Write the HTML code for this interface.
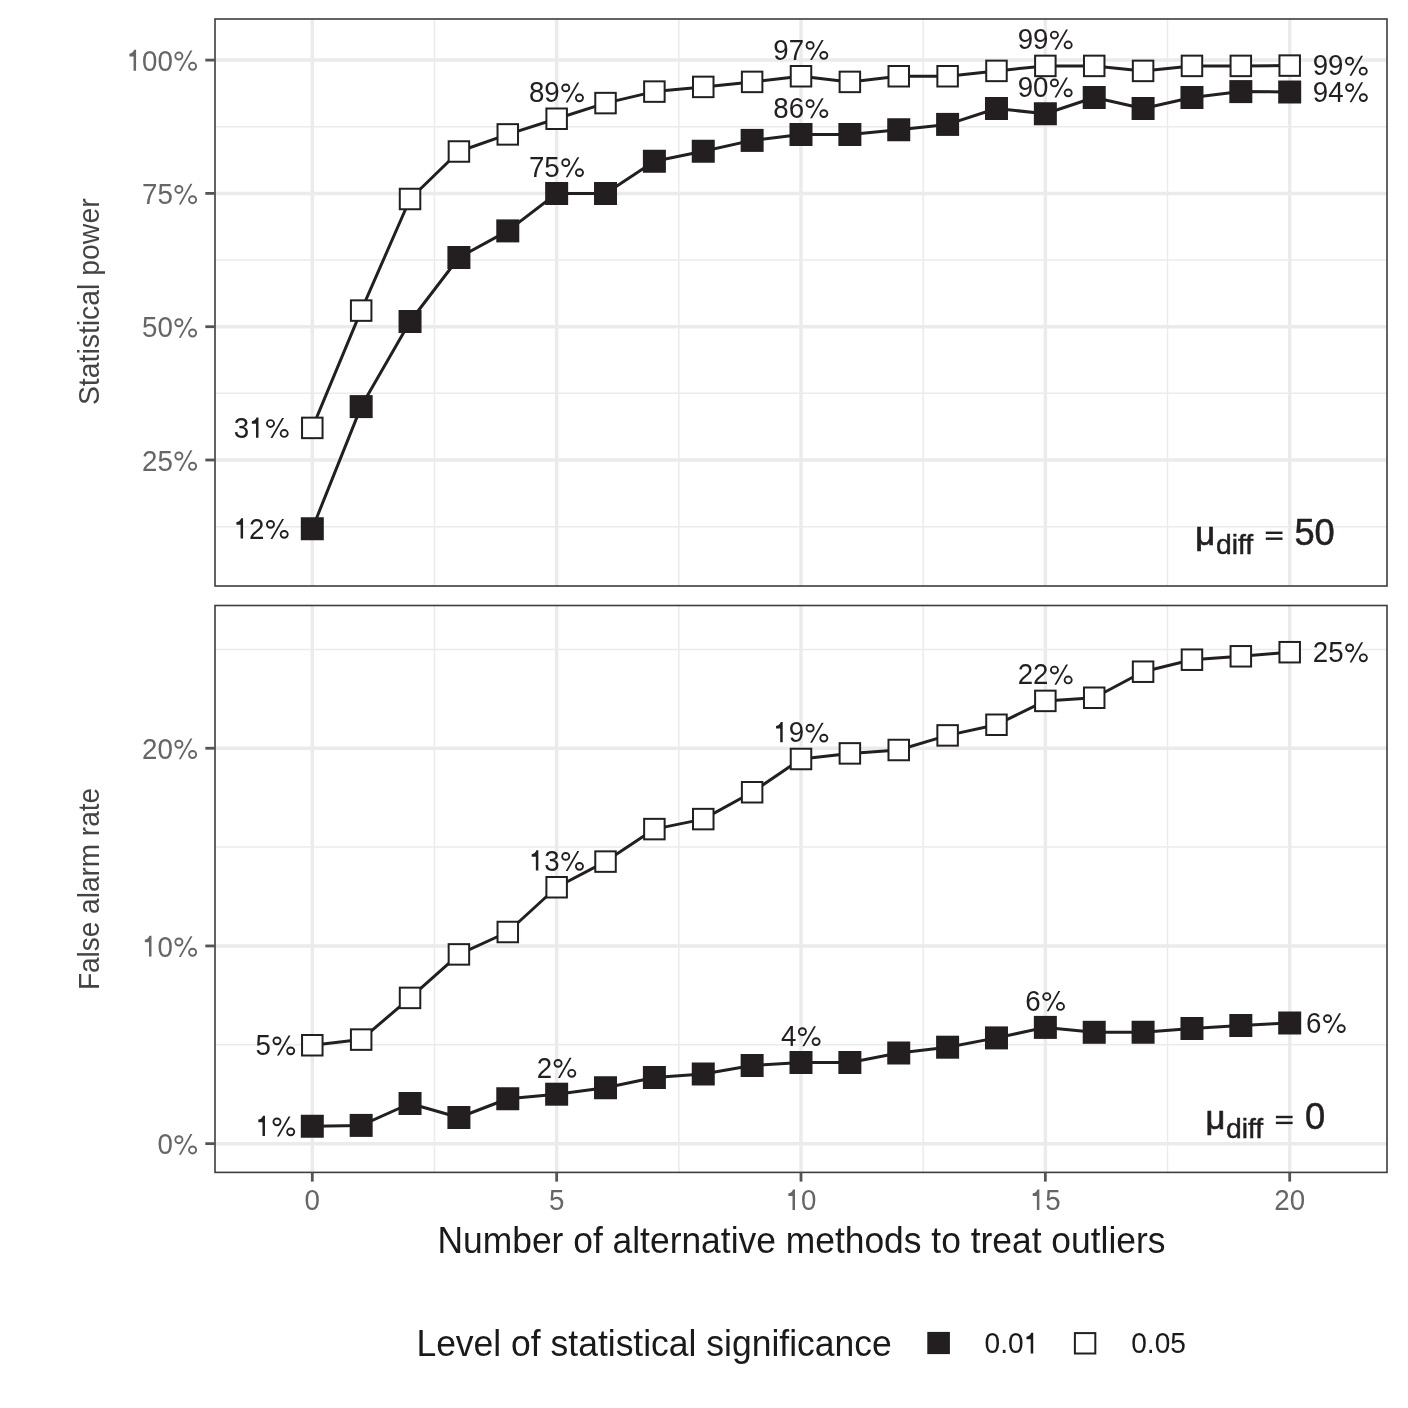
<!DOCTYPE html><html><head><meta charset="utf-8"><style>html,body{margin:0;padding:0;background:#fff}svg{display:block;filter:blur(0.5px)}text{font-family:"Liberation Sans",sans-serif}</style></head><body>
<svg width="1408" height="1408" viewBox="0 0 1408 1408">
<rect width="1408" height="1408" fill="#fff"/>
<line x1="215" x2="1387" y1="526.65" y2="526.65" stroke="#ebebeb" stroke-width="1.5"/>
<line x1="215" x2="1387" y1="393.35" y2="393.35" stroke="#ebebeb" stroke-width="1.5"/>
<line x1="215" x2="1387" y1="260.05" y2="260.05" stroke="#ebebeb" stroke-width="1.5"/>
<line x1="215" x2="1387" y1="126.75" y2="126.75" stroke="#ebebeb" stroke-width="1.5"/>
<line x1="434.48" x2="434.48" y1="19" y2="586" stroke="#ebebeb" stroke-width="1.5"/>
<line x1="678.83" x2="678.83" y1="19" y2="586" stroke="#ebebeb" stroke-width="1.5"/>
<line x1="923.17" x2="923.17" y1="19" y2="586" stroke="#ebebeb" stroke-width="1.5"/>
<line x1="1167.52" x2="1167.52" y1="19" y2="586" stroke="#ebebeb" stroke-width="1.5"/>
<line x1="215" x2="1387" y1="460.00" y2="460.00" stroke="#ebebeb" stroke-width="3.5"/>
<line x1="215" x2="1387" y1="326.70" y2="326.70" stroke="#ebebeb" stroke-width="3.5"/>
<line x1="215" x2="1387" y1="193.40" y2="193.40" stroke="#ebebeb" stroke-width="3.5"/>
<line x1="215" x2="1387" y1="60.10" y2="60.10" stroke="#ebebeb" stroke-width="3.5"/>
<line x1="312.30" x2="312.30" y1="19" y2="586" stroke="#ebebeb" stroke-width="3.5"/>
<line x1="556.65" x2="556.65" y1="19" y2="586" stroke="#ebebeb" stroke-width="3.5"/>
<line x1="801.00" x2="801.00" y1="19" y2="586" stroke="#ebebeb" stroke-width="3.5"/>
<line x1="1045.35" x2="1045.35" y1="19" y2="586" stroke="#ebebeb" stroke-width="3.5"/>
<line x1="1289.70" x2="1289.70" y1="19" y2="586" stroke="#ebebeb" stroke-width="3.5"/>
<line x1="215" x2="1387" y1="1044.80" y2="1044.80" stroke="#ebebeb" stroke-width="1.5"/>
<line x1="215" x2="1387" y1="847.10" y2="847.10" stroke="#ebebeb" stroke-width="1.5"/>
<line x1="215" x2="1387" y1="649.40" y2="649.40" stroke="#ebebeb" stroke-width="1.5"/>
<line x1="434.48" x2="434.48" y1="605.5" y2="1172.4" stroke="#ebebeb" stroke-width="1.5"/>
<line x1="678.83" x2="678.83" y1="605.5" y2="1172.4" stroke="#ebebeb" stroke-width="1.5"/>
<line x1="923.17" x2="923.17" y1="605.5" y2="1172.4" stroke="#ebebeb" stroke-width="1.5"/>
<line x1="1167.52" x2="1167.52" y1="605.5" y2="1172.4" stroke="#ebebeb" stroke-width="1.5"/>
<line x1="215" x2="1387" y1="1143.65" y2="1143.65" stroke="#ebebeb" stroke-width="3.5"/>
<line x1="215" x2="1387" y1="945.95" y2="945.95" stroke="#ebebeb" stroke-width="3.5"/>
<line x1="215" x2="1387" y1="748.25" y2="748.25" stroke="#ebebeb" stroke-width="3.5"/>
<line x1="312.30" x2="312.30" y1="605.5" y2="1172.4" stroke="#ebebeb" stroke-width="3.5"/>
<line x1="556.65" x2="556.65" y1="605.5" y2="1172.4" stroke="#ebebeb" stroke-width="3.5"/>
<line x1="801.00" x2="801.00" y1="605.5" y2="1172.4" stroke="#ebebeb" stroke-width="3.5"/>
<line x1="1045.35" x2="1045.35" y1="605.5" y2="1172.4" stroke="#ebebeb" stroke-width="3.5"/>
<line x1="1289.70" x2="1289.70" y1="605.5" y2="1172.4" stroke="#ebebeb" stroke-width="3.5"/>
<polyline points="312.30,528.75 361.17,406.60 410.04,321.50 458.91,257.50 507.78,230.90 556.65,193.50 605.52,193.50 654.39,161.25 703.26,151.25 752.13,140.40 801.00,134.50 849.87,134.50 898.74,129.75 947.61,124.40 996.48,108.50 1045.35,113.75 1094.22,97.50 1143.09,108.50 1191.96,97.50 1240.83,91.60 1289.70,92.00" fill="none" stroke="#231f20" stroke-width="3.0" stroke-linejoin="round"/>
<rect x="300.80" y="517.25" width="23.00" height="23.00" fill="#231f20"/>
<rect x="349.67" y="395.10" width="23.00" height="23.00" fill="#231f20"/>
<rect x="398.54" y="310.00" width="23.00" height="23.00" fill="#231f20"/>
<rect x="447.41" y="246.00" width="23.00" height="23.00" fill="#231f20"/>
<rect x="496.28" y="219.40" width="23.00" height="23.00" fill="#231f20"/>
<rect x="545.15" y="182.00" width="23.00" height="23.00" fill="#231f20"/>
<rect x="594.02" y="182.00" width="23.00" height="23.00" fill="#231f20"/>
<rect x="642.89" y="149.75" width="23.00" height="23.00" fill="#231f20"/>
<rect x="691.76" y="139.75" width="23.00" height="23.00" fill="#231f20"/>
<rect x="740.63" y="128.90" width="23.00" height="23.00" fill="#231f20"/>
<rect x="789.50" y="123.00" width="23.00" height="23.00" fill="#231f20"/>
<rect x="838.37" y="123.00" width="23.00" height="23.00" fill="#231f20"/>
<rect x="887.24" y="118.25" width="23.00" height="23.00" fill="#231f20"/>
<rect x="936.11" y="112.90" width="23.00" height="23.00" fill="#231f20"/>
<rect x="984.98" y="97.00" width="23.00" height="23.00" fill="#231f20"/>
<rect x="1033.85" y="102.25" width="23.00" height="23.00" fill="#231f20"/>
<rect x="1082.72" y="86.00" width="23.00" height="23.00" fill="#231f20"/>
<rect x="1131.59" y="97.00" width="23.00" height="23.00" fill="#231f20"/>
<rect x="1180.46" y="86.00" width="23.00" height="23.00" fill="#231f20"/>
<rect x="1229.33" y="80.10" width="23.00" height="23.00" fill="#231f20"/>
<rect x="1278.20" y="80.50" width="23.00" height="23.00" fill="#231f20"/>
<polyline points="312.30,427.90 361.17,310.60 410.04,199.00 458.91,151.50 507.78,134.40 556.65,118.75 605.52,103.10 654.39,91.60 703.26,86.90 752.13,81.90 801.00,76.25 849.87,81.90 898.74,76.25 947.61,76.25 996.48,70.90 1045.35,65.90 1094.22,65.90 1143.09,70.90 1191.96,65.90 1240.83,65.90 1289.70,65.60" fill="none" stroke="#231f20" stroke-width="3.0" stroke-linejoin="round"/>
<rect x="302.05" y="417.65" width="20.50" height="20.50" fill="#fff" stroke="#231f20" stroke-width="2"/>
<rect x="350.92" y="300.35" width="20.50" height="20.50" fill="#fff" stroke="#231f20" stroke-width="2"/>
<rect x="399.79" y="188.75" width="20.50" height="20.50" fill="#fff" stroke="#231f20" stroke-width="2"/>
<rect x="448.66" y="141.25" width="20.50" height="20.50" fill="#fff" stroke="#231f20" stroke-width="2"/>
<rect x="497.53" y="124.15" width="20.50" height="20.50" fill="#fff" stroke="#231f20" stroke-width="2"/>
<rect x="546.40" y="108.50" width="20.50" height="20.50" fill="#fff" stroke="#231f20" stroke-width="2"/>
<rect x="595.27" y="92.85" width="20.50" height="20.50" fill="#fff" stroke="#231f20" stroke-width="2"/>
<rect x="644.14" y="81.35" width="20.50" height="20.50" fill="#fff" stroke="#231f20" stroke-width="2"/>
<rect x="693.01" y="76.65" width="20.50" height="20.50" fill="#fff" stroke="#231f20" stroke-width="2"/>
<rect x="741.88" y="71.65" width="20.50" height="20.50" fill="#fff" stroke="#231f20" stroke-width="2"/>
<rect x="790.75" y="66.00" width="20.50" height="20.50" fill="#fff" stroke="#231f20" stroke-width="2"/>
<rect x="839.62" y="71.65" width="20.50" height="20.50" fill="#fff" stroke="#231f20" stroke-width="2"/>
<rect x="888.49" y="66.00" width="20.50" height="20.50" fill="#fff" stroke="#231f20" stroke-width="2"/>
<rect x="937.36" y="66.00" width="20.50" height="20.50" fill="#fff" stroke="#231f20" stroke-width="2"/>
<rect x="986.23" y="60.65" width="20.50" height="20.50" fill="#fff" stroke="#231f20" stroke-width="2"/>
<rect x="1035.10" y="55.65" width="20.50" height="20.50" fill="#fff" stroke="#231f20" stroke-width="2"/>
<rect x="1083.97" y="55.65" width="20.50" height="20.50" fill="#fff" stroke="#231f20" stroke-width="2"/>
<rect x="1132.84" y="60.65" width="20.50" height="20.50" fill="#fff" stroke="#231f20" stroke-width="2"/>
<rect x="1181.71" y="55.65" width="20.50" height="20.50" fill="#fff" stroke="#231f20" stroke-width="2"/>
<rect x="1230.58" y="55.65" width="20.50" height="20.50" fill="#fff" stroke="#231f20" stroke-width="2"/>
<rect x="1279.45" y="55.35" width="20.50" height="20.50" fill="#fff" stroke="#231f20" stroke-width="2"/>
<polyline points="312.30,1126.25 361.17,1125.40 410.04,1103.50 458.91,1117.50 507.78,1098.75 556.65,1094.20 605.52,1087.75 654.39,1077.50 703.26,1074.00 752.13,1065.50 801.00,1062.50 849.87,1062.50 898.74,1053.00 947.61,1047.20 996.48,1037.90 1045.35,1027.40 1094.22,1032.30 1143.09,1032.25 1191.96,1028.50 1240.83,1025.50 1289.70,1023.00" fill="none" stroke="#231f20" stroke-width="3.0" stroke-linejoin="round"/>
<rect x="300.80" y="1114.75" width="23.00" height="23.00" fill="#231f20"/>
<rect x="349.67" y="1113.90" width="23.00" height="23.00" fill="#231f20"/>
<rect x="398.54" y="1092.00" width="23.00" height="23.00" fill="#231f20"/>
<rect x="447.41" y="1106.00" width="23.00" height="23.00" fill="#231f20"/>
<rect x="496.28" y="1087.25" width="23.00" height="23.00" fill="#231f20"/>
<rect x="545.15" y="1082.70" width="23.00" height="23.00" fill="#231f20"/>
<rect x="594.02" y="1076.25" width="23.00" height="23.00" fill="#231f20"/>
<rect x="642.89" y="1066.00" width="23.00" height="23.00" fill="#231f20"/>
<rect x="691.76" y="1062.50" width="23.00" height="23.00" fill="#231f20"/>
<rect x="740.63" y="1054.00" width="23.00" height="23.00" fill="#231f20"/>
<rect x="789.50" y="1051.00" width="23.00" height="23.00" fill="#231f20"/>
<rect x="838.37" y="1051.00" width="23.00" height="23.00" fill="#231f20"/>
<rect x="887.24" y="1041.50" width="23.00" height="23.00" fill="#231f20"/>
<rect x="936.11" y="1035.70" width="23.00" height="23.00" fill="#231f20"/>
<rect x="984.98" y="1026.40" width="23.00" height="23.00" fill="#231f20"/>
<rect x="1033.85" y="1015.90" width="23.00" height="23.00" fill="#231f20"/>
<rect x="1082.72" y="1020.80" width="23.00" height="23.00" fill="#231f20"/>
<rect x="1131.59" y="1020.75" width="23.00" height="23.00" fill="#231f20"/>
<rect x="1180.46" y="1017.00" width="23.00" height="23.00" fill="#231f20"/>
<rect x="1229.33" y="1014.00" width="23.00" height="23.00" fill="#231f20"/>
<rect x="1278.20" y="1011.50" width="23.00" height="23.00" fill="#231f20"/>
<polyline points="312.30,1045.25 361.17,1039.60 410.04,997.90 458.91,954.40 507.78,932.00 556.65,887.25 605.52,861.60 654.39,829.10 703.26,819.10 752.13,792.25 801.00,759.00 849.87,753.40 898.74,750.00 947.61,735.40 996.48,724.75 1045.35,700.90 1094.22,697.75 1143.09,671.70 1191.96,659.70 1240.83,656.30 1289.70,652.20" fill="none" stroke="#231f20" stroke-width="3.0" stroke-linejoin="round"/>
<rect x="302.05" y="1035.00" width="20.50" height="20.50" fill="#fff" stroke="#231f20" stroke-width="2"/>
<rect x="350.92" y="1029.35" width="20.50" height="20.50" fill="#fff" stroke="#231f20" stroke-width="2"/>
<rect x="399.79" y="987.65" width="20.50" height="20.50" fill="#fff" stroke="#231f20" stroke-width="2"/>
<rect x="448.66" y="944.15" width="20.50" height="20.50" fill="#fff" stroke="#231f20" stroke-width="2"/>
<rect x="497.53" y="921.75" width="20.50" height="20.50" fill="#fff" stroke="#231f20" stroke-width="2"/>
<rect x="546.40" y="877.00" width="20.50" height="20.50" fill="#fff" stroke="#231f20" stroke-width="2"/>
<rect x="595.27" y="851.35" width="20.50" height="20.50" fill="#fff" stroke="#231f20" stroke-width="2"/>
<rect x="644.14" y="818.85" width="20.50" height="20.50" fill="#fff" stroke="#231f20" stroke-width="2"/>
<rect x="693.01" y="808.85" width="20.50" height="20.50" fill="#fff" stroke="#231f20" stroke-width="2"/>
<rect x="741.88" y="782.00" width="20.50" height="20.50" fill="#fff" stroke="#231f20" stroke-width="2"/>
<rect x="790.75" y="748.75" width="20.50" height="20.50" fill="#fff" stroke="#231f20" stroke-width="2"/>
<rect x="839.62" y="743.15" width="20.50" height="20.50" fill="#fff" stroke="#231f20" stroke-width="2"/>
<rect x="888.49" y="739.75" width="20.50" height="20.50" fill="#fff" stroke="#231f20" stroke-width="2"/>
<rect x="937.36" y="725.15" width="20.50" height="20.50" fill="#fff" stroke="#231f20" stroke-width="2"/>
<rect x="986.23" y="714.50" width="20.50" height="20.50" fill="#fff" stroke="#231f20" stroke-width="2"/>
<rect x="1035.10" y="690.65" width="20.50" height="20.50" fill="#fff" stroke="#231f20" stroke-width="2"/>
<rect x="1083.97" y="687.50" width="20.50" height="20.50" fill="#fff" stroke="#231f20" stroke-width="2"/>
<rect x="1132.84" y="661.45" width="20.50" height="20.50" fill="#fff" stroke="#231f20" stroke-width="2"/>
<rect x="1181.71" y="649.45" width="20.50" height="20.50" fill="#fff" stroke="#231f20" stroke-width="2"/>
<rect x="1230.58" y="646.05" width="20.50" height="20.50" fill="#fff" stroke="#231f20" stroke-width="2"/>
<rect x="1279.45" y="641.95" width="20.50" height="20.50" fill="#fff" stroke="#231f20" stroke-width="2"/>
<rect x="215" y="19" width="1172" height="567" fill="none" stroke="#3d3d3d" stroke-width="1.6"/>
<rect x="215" y="605.5" width="1172" height="566.9000000000001" fill="none" stroke="#3d3d3d" stroke-width="1.6"/>
<g transform="translate(528.93 102.05) scale(1 1.04)" fill="#231f20"><text x="0.00" y="0" font-size="27.7">89</text><path transform="translate(30.81 0) scale(0.02770 -0.02770)" fill-rule="evenodd" d="M 55 492 A 162 152 0 1 0 379 492 A 162 152 0 1 0 55 492 Z M 123 492 A 94 84 0 1 0 311 492 A 94 84 0 1 0 123 492 Z M 550 146 A 162 152 0 1 0 874 146 A 162 152 0 1 0 550 146 Z M 618 146 A 94 84 0 1 0 806 146 A 94 84 0 1 0 618 146 Z M 215 -15 L 287 -15 L 706 682 L 634 682 Z"/></g>
<g transform="translate(528.93 176.80) scale(1 1.04)" fill="#231f20"><text x="0.00" y="0" font-size="27.7">75</text><path transform="translate(30.81 0) scale(0.02770 -0.02770)" fill-rule="evenodd" d="M 55 492 A 162 152 0 1 0 379 492 A 162 152 0 1 0 55 492 Z M 123 492 A 94 84 0 1 0 311 492 A 94 84 0 1 0 123 492 Z M 550 146 A 162 152 0 1 0 874 146 A 162 152 0 1 0 550 146 Z M 618 146 A 94 84 0 1 0 806 146 A 94 84 0 1 0 618 146 Z M 215 -15 L 287 -15 L 706 682 L 634 682 Z"/></g>
<g transform="translate(773.28 59.55) scale(1 1.04)" fill="#231f20"><text x="0.00" y="0" font-size="27.7">97</text><path transform="translate(30.81 0) scale(0.02770 -0.02770)" fill-rule="evenodd" d="M 55 492 A 162 152 0 1 0 379 492 A 162 152 0 1 0 55 492 Z M 123 492 A 94 84 0 1 0 311 492 A 94 84 0 1 0 123 492 Z M 550 146 A 162 152 0 1 0 874 146 A 162 152 0 1 0 550 146 Z M 618 146 A 94 84 0 1 0 806 146 A 94 84 0 1 0 618 146 Z M 215 -15 L 287 -15 L 706 682 L 634 682 Z"/></g>
<g transform="translate(773.28 117.80) scale(1 1.04)" fill="#231f20"><text x="0.00" y="0" font-size="27.7">86</text><path transform="translate(30.81 0) scale(0.02770 -0.02770)" fill-rule="evenodd" d="M 55 492 A 162 152 0 1 0 379 492 A 162 152 0 1 0 55 492 Z M 123 492 A 94 84 0 1 0 311 492 A 94 84 0 1 0 123 492 Z M 550 146 A 162 152 0 1 0 874 146 A 162 152 0 1 0 550 146 Z M 618 146 A 94 84 0 1 0 806 146 A 94 84 0 1 0 618 146 Z M 215 -15 L 287 -15 L 706 682 L 634 682 Z"/></g>
<g transform="translate(1017.63 49.20) scale(1 1.04)" fill="#231f20"><text x="0.00" y="0" font-size="27.7">99</text><path transform="translate(30.81 0) scale(0.02770 -0.02770)" fill-rule="evenodd" d="M 55 492 A 162 152 0 1 0 379 492 A 162 152 0 1 0 55 492 Z M 123 492 A 94 84 0 1 0 311 492 A 94 84 0 1 0 123 492 Z M 550 146 A 162 152 0 1 0 874 146 A 162 152 0 1 0 550 146 Z M 618 146 A 94 84 0 1 0 806 146 A 94 84 0 1 0 618 146 Z M 215 -15 L 287 -15 L 706 682 L 634 682 Z"/></g>
<g transform="translate(1017.63 97.05) scale(1 1.04)" fill="#231f20"><text x="0.00" y="0" font-size="27.7">90</text><path transform="translate(30.81 0) scale(0.02770 -0.02770)" fill-rule="evenodd" d="M 55 492 A 162 152 0 1 0 379 492 A 162 152 0 1 0 55 492 Z M 123 492 A 94 84 0 1 0 311 492 A 94 84 0 1 0 123 492 Z M 550 146 A 162 152 0 1 0 874 146 A 162 152 0 1 0 550 146 Z M 618 146 A 94 84 0 1 0 806 146 A 94 84 0 1 0 618 146 Z M 215 -15 L 287 -15 L 706 682 L 634 682 Z"/></g>
<g transform="translate(528.93 870.55) scale(1 1.04)" fill="#231f20"><path transform="translate(0.00 0) scale(0.02770 -0.02770)" d="M 340 0 L 340 703 L 268 703 Q 250 640 205 610 Q 160 580 100 570 L 100 480 L 250 480 L 250 0 Z"/><text x="15.41" y="0" font-size="27.7">3</text><path transform="translate(30.81 0) scale(0.02770 -0.02770)" fill-rule="evenodd" d="M 55 492 A 162 152 0 1 0 379 492 A 162 152 0 1 0 55 492 Z M 123 492 A 94 84 0 1 0 311 492 A 94 84 0 1 0 123 492 Z M 550 146 A 162 152 0 1 0 874 146 A 162 152 0 1 0 550 146 Z M 618 146 A 94 84 0 1 0 806 146 A 94 84 0 1 0 618 146 Z M 215 -15 L 287 -15 L 706 682 L 634 682 Z"/></g>
<g transform="translate(536.63 1077.50) scale(1 1.04)" fill="#231f20"><text x="0.00" y="0" font-size="27.7">2</text><path transform="translate(15.41 0) scale(0.02770 -0.02770)" fill-rule="evenodd" d="M 55 492 A 162 152 0 1 0 379 492 A 162 152 0 1 0 55 492 Z M 123 492 A 94 84 0 1 0 311 492 A 94 84 0 1 0 123 492 Z M 550 146 A 162 152 0 1 0 874 146 A 162 152 0 1 0 550 146 Z M 618 146 A 94 84 0 1 0 806 146 A 94 84 0 1 0 618 146 Z M 215 -15 L 287 -15 L 706 682 L 634 682 Z"/></g>
<g transform="translate(773.28 742.30) scale(1 1.04)" fill="#231f20"><path transform="translate(0.00 0) scale(0.02770 -0.02770)" d="M 340 0 L 340 703 L 268 703 Q 250 640 205 610 Q 160 580 100 570 L 100 480 L 250 480 L 250 0 Z"/><text x="15.41" y="0" font-size="27.7">9</text><path transform="translate(30.81 0) scale(0.02770 -0.02770)" fill-rule="evenodd" d="M 55 492 A 162 152 0 1 0 379 492 A 162 152 0 1 0 55 492 Z M 123 492 A 94 84 0 1 0 311 492 A 94 84 0 1 0 123 492 Z M 550 146 A 162 152 0 1 0 874 146 A 162 152 0 1 0 550 146 Z M 618 146 A 94 84 0 1 0 806 146 A 94 84 0 1 0 618 146 Z M 215 -15 L 287 -15 L 706 682 L 634 682 Z"/></g>
<g transform="translate(780.98 1045.80) scale(1 1.04)" fill="#231f20"><text x="0.00" y="0" font-size="27.7">4</text><path transform="translate(15.41 0) scale(0.02770 -0.02770)" fill-rule="evenodd" d="M 55 492 A 162 152 0 1 0 379 492 A 162 152 0 1 0 55 492 Z M 123 492 A 94 84 0 1 0 311 492 A 94 84 0 1 0 123 492 Z M 550 146 A 162 152 0 1 0 874 146 A 162 152 0 1 0 550 146 Z M 618 146 A 94 84 0 1 0 806 146 A 94 84 0 1 0 618 146 Z M 215 -15 L 287 -15 L 706 682 L 634 682 Z"/></g>
<g transform="translate(1017.63 684.20) scale(1 1.04)" fill="#231f20"><text x="0.00" y="0" font-size="27.7">22</text><path transform="translate(30.81 0) scale(0.02770 -0.02770)" fill-rule="evenodd" d="M 55 492 A 162 152 0 1 0 379 492 A 162 152 0 1 0 55 492 Z M 123 492 A 94 84 0 1 0 311 492 A 94 84 0 1 0 123 492 Z M 550 146 A 162 152 0 1 0 874 146 A 162 152 0 1 0 550 146 Z M 618 146 A 94 84 0 1 0 806 146 A 94 84 0 1 0 618 146 Z M 215 -15 L 287 -15 L 706 682 L 634 682 Z"/></g>
<g transform="translate(1025.33 1010.70) scale(1 1.04)" fill="#231f20"><text x="0.00" y="0" font-size="27.7">6</text><path transform="translate(15.41 0) scale(0.02770 -0.02770)" fill-rule="evenodd" d="M 55 492 A 162 152 0 1 0 379 492 A 162 152 0 1 0 55 492 Z M 123 492 A 94 84 0 1 0 311 492 A 94 84 0 1 0 123 492 Z M 550 146 A 162 152 0 1 0 874 146 A 162 152 0 1 0 550 146 Z M 618 146 A 94 84 0 1 0 806 146 A 94 84 0 1 0 618 146 Z M 215 -15 L 287 -15 L 706 682 L 634 682 Z"/></g>
<g transform="translate(233.66 437.69) scale(1 1.04)" fill="#231f20"><text x="0.00" y="0" font-size="27.7">3</text><path transform="translate(15.41 0) scale(0.02770 -0.02770)" d="M 340 0 L 340 703 L 268 703 Q 250 640 205 610 Q 160 580 100 570 L 100 480 L 250 480 L 250 0 Z"/><path transform="translate(30.81 0) scale(0.02770 -0.02770)" fill-rule="evenodd" d="M 55 492 A 162 152 0 1 0 379 492 A 162 152 0 1 0 55 492 Z M 123 492 A 94 84 0 1 0 311 492 A 94 84 0 1 0 123 492 Z M 550 146 A 162 152 0 1 0 874 146 A 162 152 0 1 0 550 146 Z M 618 146 A 94 84 0 1 0 806 146 A 94 84 0 1 0 618 146 Z M 215 -15 L 287 -15 L 706 682 L 634 682 Z"/></g>
<g transform="translate(233.66 538.54) scale(1 1.04)" fill="#231f20"><path transform="translate(0.00 0) scale(0.02770 -0.02770)" d="M 340 0 L 340 703 L 268 703 Q 250 640 205 610 Q 160 580 100 570 L 100 480 L 250 480 L 250 0 Z"/><text x="15.41" y="0" font-size="27.7">2</text><path transform="translate(30.81 0) scale(0.02770 -0.02770)" fill-rule="evenodd" d="M 55 492 A 162 152 0 1 0 379 492 A 162 152 0 1 0 55 492 Z M 123 492 A 94 84 0 1 0 311 492 A 94 84 0 1 0 123 492 Z M 550 146 A 162 152 0 1 0 874 146 A 162 152 0 1 0 550 146 Z M 618 146 A 94 84 0 1 0 806 146 A 94 84 0 1 0 618 146 Z M 215 -15 L 287 -15 L 706 682 L 634 682 Z"/></g>
<g transform="translate(255.56 1055.04) scale(1 1.04)" fill="#231f20"><text x="0.00" y="0" font-size="27.7">5</text><path transform="translate(15.41 0) scale(0.02770 -0.02770)" fill-rule="evenodd" d="M 55 492 A 162 152 0 1 0 379 492 A 162 152 0 1 0 55 492 Z M 123 492 A 94 84 0 1 0 311 492 A 94 84 0 1 0 123 492 Z M 550 146 A 162 152 0 1 0 874 146 A 162 152 0 1 0 550 146 Z M 618 146 A 94 84 0 1 0 806 146 A 94 84 0 1 0 618 146 Z M 215 -15 L 287 -15 L 706 682 L 634 682 Z"/></g>
<g transform="translate(255.56 1136.04) scale(1 1.04)" fill="#231f20"><path transform="translate(0.00 0) scale(0.02770 -0.02770)" d="M 340 0 L 340 703 L 268 703 Q 250 640 205 610 Q 160 580 100 570 L 100 480 L 250 480 L 250 0 Z"/><path transform="translate(15.41 0) scale(0.02770 -0.02770)" fill-rule="evenodd" d="M 55 492 A 162 152 0 1 0 379 492 A 162 152 0 1 0 55 492 Z M 123 492 A 94 84 0 1 0 311 492 A 94 84 0 1 0 123 492 Z M 550 146 A 162 152 0 1 0 874 146 A 162 152 0 1 0 550 146 Z M 618 146 A 94 84 0 1 0 806 146 A 94 84 0 1 0 618 146 Z M 215 -15 L 287 -15 L 706 682 L 634 682 Z"/></g>
<g transform="translate(1312.70 75.39) scale(1 1.04)" fill="#231f20"><text x="0.00" y="0" font-size="27.7">99</text><path transform="translate(30.81 0) scale(0.02770 -0.02770)" fill-rule="evenodd" d="M 55 492 A 162 152 0 1 0 379 492 A 162 152 0 1 0 55 492 Z M 123 492 A 94 84 0 1 0 311 492 A 94 84 0 1 0 123 492 Z M 550 146 A 162 152 0 1 0 874 146 A 162 152 0 1 0 550 146 Z M 618 146 A 94 84 0 1 0 806 146 A 94 84 0 1 0 618 146 Z M 215 -15 L 287 -15 L 706 682 L 634 682 Z"/></g>
<g transform="translate(1312.80 101.79) scale(1 1.04)" fill="#231f20"><text x="0.00" y="0" font-size="27.7">94</text><path transform="translate(30.81 0) scale(0.02770 -0.02770)" fill-rule="evenodd" d="M 55 492 A 162 152 0 1 0 379 492 A 162 152 0 1 0 55 492 Z M 123 492 A 94 84 0 1 0 311 492 A 94 84 0 1 0 123 492 Z M 550 146 A 162 152 0 1 0 874 146 A 162 152 0 1 0 550 146 Z M 618 146 A 94 84 0 1 0 806 146 A 94 84 0 1 0 618 146 Z M 215 -15 L 287 -15 L 706 682 L 634 682 Z"/></g>
<g transform="translate(1312.80 661.99) scale(1 1.04)" fill="#231f20"><text x="0.00" y="0" font-size="27.7">25</text><path transform="translate(30.81 0) scale(0.02770 -0.02770)" fill-rule="evenodd" d="M 55 492 A 162 152 0 1 0 379 492 A 162 152 0 1 0 55 492 Z M 123 492 A 94 84 0 1 0 311 492 A 94 84 0 1 0 123 492 Z M 550 146 A 162 152 0 1 0 874 146 A 162 152 0 1 0 550 146 Z M 618 146 A 94 84 0 1 0 806 146 A 94 84 0 1 0 618 146 Z M 215 -15 L 287 -15 L 706 682 L 634 682 Z"/></g>
<g transform="translate(1306.10 1032.79) scale(1 1.04)" fill="#231f20"><text x="0.00" y="0" font-size="27.7">6</text><path transform="translate(15.41 0) scale(0.02770 -0.02770)" fill-rule="evenodd" d="M 55 492 A 162 152 0 1 0 379 492 A 162 152 0 1 0 55 492 Z M 123 492 A 94 84 0 1 0 311 492 A 94 84 0 1 0 123 492 Z M 550 146 A 162 152 0 1 0 874 146 A 162 152 0 1 0 550 146 Z M 618 146 A 94 84 0 1 0 806 146 A 94 84 0 1 0 618 146 Z M 215 -15 L 287 -15 L 706 682 L 634 682 Z"/></g>
<line x1="205.3" x2="215" y1="460.00" y2="460.00" stroke="#555555" stroke-width="2.8"/>
<g transform="translate(142.06 470.58) scale(1 1.07)" fill="#666666"><text x="0.00" y="0" font-size="27.7">25</text><path transform="translate(30.81 0) scale(0.02770 -0.02770)" fill-rule="evenodd" d="M 55 492 A 162 152 0 1 0 379 492 A 162 152 0 1 0 55 492 Z M 123 492 A 94 84 0 1 0 311 492 A 94 84 0 1 0 123 492 Z M 550 146 A 162 152 0 1 0 874 146 A 162 152 0 1 0 550 146 Z M 618 146 A 94 84 0 1 0 806 146 A 94 84 0 1 0 618 146 Z M 215 -15 L 287 -15 L 706 682 L 634 682 Z"/></g>
<line x1="205.3" x2="215" y1="326.70" y2="326.70" stroke="#555555" stroke-width="2.8"/>
<g transform="translate(142.06 337.28) scale(1 1.07)" fill="#666666"><text x="0.00" y="0" font-size="27.7">50</text><path transform="translate(30.81 0) scale(0.02770 -0.02770)" fill-rule="evenodd" d="M 55 492 A 162 152 0 1 0 379 492 A 162 152 0 1 0 55 492 Z M 123 492 A 94 84 0 1 0 311 492 A 94 84 0 1 0 123 492 Z M 550 146 A 162 152 0 1 0 874 146 A 162 152 0 1 0 550 146 Z M 618 146 A 94 84 0 1 0 806 146 A 94 84 0 1 0 618 146 Z M 215 -15 L 287 -15 L 706 682 L 634 682 Z"/></g>
<line x1="205.3" x2="215" y1="193.40" y2="193.40" stroke="#555555" stroke-width="2.8"/>
<g transform="translate(142.06 203.98) scale(1 1.07)" fill="#666666"><text x="0.00" y="0" font-size="27.7">75</text><path transform="translate(30.81 0) scale(0.02770 -0.02770)" fill-rule="evenodd" d="M 55 492 A 162 152 0 1 0 379 492 A 162 152 0 1 0 55 492 Z M 123 492 A 94 84 0 1 0 311 492 A 94 84 0 1 0 123 492 Z M 550 146 A 162 152 0 1 0 874 146 A 162 152 0 1 0 550 146 Z M 618 146 A 94 84 0 1 0 806 146 A 94 84 0 1 0 618 146 Z M 215 -15 L 287 -15 L 706 682 L 634 682 Z"/></g>
<line x1="205.3" x2="215" y1="60.10" y2="60.10" stroke="#555555" stroke-width="2.8"/>
<g transform="translate(126.65 70.68) scale(1 1.07)" fill="#666666"><path transform="translate(0.00 0) scale(0.02770 -0.02770)" d="M 340 0 L 340 703 L 268 703 Q 250 640 205 610 Q 160 580 100 570 L 100 480 L 250 480 L 250 0 Z"/><text x="15.41" y="0" font-size="27.7">00</text><path transform="translate(46.22 0) scale(0.02770 -0.02770)" fill-rule="evenodd" d="M 55 492 A 162 152 0 1 0 379 492 A 162 152 0 1 0 55 492 Z M 123 492 A 94 84 0 1 0 311 492 A 94 84 0 1 0 123 492 Z M 550 146 A 162 152 0 1 0 874 146 A 162 152 0 1 0 550 146 Z M 618 146 A 94 84 0 1 0 806 146 A 94 84 0 1 0 618 146 Z M 215 -15 L 287 -15 L 706 682 L 634 682 Z"/></g>
<line x1="205.3" x2="215" y1="1143.65" y2="1143.65" stroke="#555555" stroke-width="2.8"/>
<g transform="translate(157.46 1154.23) scale(1 1.07)" fill="#666666"><text x="0.00" y="0" font-size="27.7">0</text><path transform="translate(15.41 0) scale(0.02770 -0.02770)" fill-rule="evenodd" d="M 55 492 A 162 152 0 1 0 379 492 A 162 152 0 1 0 55 492 Z M 123 492 A 94 84 0 1 0 311 492 A 94 84 0 1 0 123 492 Z M 550 146 A 162 152 0 1 0 874 146 A 162 152 0 1 0 550 146 Z M 618 146 A 94 84 0 1 0 806 146 A 94 84 0 1 0 618 146 Z M 215 -15 L 287 -15 L 706 682 L 634 682 Z"/></g>
<line x1="205.3" x2="215" y1="945.95" y2="945.95" stroke="#555555" stroke-width="2.8"/>
<g transform="translate(142.06 956.53) scale(1 1.07)" fill="#666666"><path transform="translate(0.00 0) scale(0.02770 -0.02770)" d="M 340 0 L 340 703 L 268 703 Q 250 640 205 610 Q 160 580 100 570 L 100 480 L 250 480 L 250 0 Z"/><text x="15.41" y="0" font-size="27.7">0</text><path transform="translate(30.81 0) scale(0.02770 -0.02770)" fill-rule="evenodd" d="M 55 492 A 162 152 0 1 0 379 492 A 162 152 0 1 0 55 492 Z M 123 492 A 94 84 0 1 0 311 492 A 94 84 0 1 0 123 492 Z M 550 146 A 162 152 0 1 0 874 146 A 162 152 0 1 0 550 146 Z M 618 146 A 94 84 0 1 0 806 146 A 94 84 0 1 0 618 146 Z M 215 -15 L 287 -15 L 706 682 L 634 682 Z"/></g>
<line x1="205.3" x2="215" y1="748.25" y2="748.25" stroke="#555555" stroke-width="2.8"/>
<g transform="translate(142.06 758.83) scale(1 1.07)" fill="#666666"><text x="0.00" y="0" font-size="27.7">20</text><path transform="translate(30.81 0) scale(0.02770 -0.02770)" fill-rule="evenodd" d="M 55 492 A 162 152 0 1 0 379 492 A 162 152 0 1 0 55 492 Z M 123 492 A 94 84 0 1 0 311 492 A 94 84 0 1 0 123 492 Z M 550 146 A 162 152 0 1 0 874 146 A 162 152 0 1 0 550 146 Z M 618 146 A 94 84 0 1 0 806 146 A 94 84 0 1 0 618 146 Z M 215 -15 L 287 -15 L 706 682 L 634 682 Z"/></g>
<line x1="312.30" x2="312.30" y1="1172.4" y2="1181.6" stroke="#555555" stroke-width="2.8"/>
<g transform="translate(304.60 1209.90) scale(1 1.05)" fill="#666666"><text x="0.00" y="0" font-size="27.7">0</text></g>
<line x1="556.65" x2="556.65" y1="1172.4" y2="1181.6" stroke="#555555" stroke-width="2.8"/>
<g transform="translate(548.95 1209.90) scale(1 1.05)" fill="#666666"><text x="0.00" y="0" font-size="27.7">5</text></g>
<line x1="801.00" x2="801.00" y1="1172.4" y2="1181.6" stroke="#555555" stroke-width="2.8"/>
<g transform="translate(785.59 1209.90) scale(1 1.05)" fill="#666666"><path transform="translate(0.00 0) scale(0.02770 -0.02770)" d="M 340 0 L 340 703 L 268 703 Q 250 640 205 610 Q 160 580 100 570 L 100 480 L 250 480 L 250 0 Z"/><text x="15.41" y="0" font-size="27.7">0</text></g>
<line x1="1045.35" x2="1045.35" y1="1172.4" y2="1181.6" stroke="#555555" stroke-width="2.8"/>
<g transform="translate(1029.94 1209.90) scale(1 1.05)" fill="#666666"><path transform="translate(0.00 0) scale(0.02770 -0.02770)" d="M 340 0 L 340 703 L 268 703 Q 250 640 205 610 Q 160 580 100 570 L 100 480 L 250 480 L 250 0 Z"/><text x="15.41" y="0" font-size="27.7">5</text></g>
<line x1="1289.70" x2="1289.70" y1="1172.4" y2="1181.6" stroke="#555555" stroke-width="2.8"/>
<g transform="translate(1274.29 1209.90) scale(1 1.05)" fill="#666666"><text x="0.00" y="0" font-size="27.7">20</text></g>
<text transform="translate(801.45 1252.50) scale(1 1.04)" font-size="35.4" fill="#1a1a1a" text-anchor="middle">Number of alternative methods to treat outliers</text>
<text transform="translate(99.0 301.75) rotate(-90) scale(1 1.04)" font-size="28.4" fill="#444444" text-anchor="middle">Statistical power</text>
<text transform="translate(98.5 889) rotate(-90) scale(1 1.04)" font-size="28.0" fill="#444444" text-anchor="middle">False alarm rate</text>
<text transform="translate(1195.30 544.80) scale(1 0.96)" font-size="34.6" fill="#231f20" stroke="#231f20" stroke-width="0.7">μ</text>
<text x="1215.90" y="554.10" font-size="28.3" fill="#231f20" stroke="#231f20" stroke-width="0.5">diff</text>
<rect x="1265.80" y="531.60" width="16.7" height="2.4" fill="#231f20"/>
<rect x="1265.80" y="537.50" width="16.7" height="2.4" fill="#231f20"/>
<text x="1294.45" y="544.80" font-size="36.3" fill="#231f20" stroke="#231f20" stroke-width="0.5">50</text>
<text transform="translate(1205.40 1129.00) scale(1 0.96)" font-size="34.6" fill="#231f20" stroke="#231f20" stroke-width="0.7">μ</text>
<text x="1226.00" y="1138.30" font-size="28.3" fill="#231f20" stroke="#231f20" stroke-width="0.5">diff</text>
<rect x="1275.90" y="1115.80" width="16.7" height="2.4" fill="#231f20"/>
<rect x="1275.90" y="1121.70" width="16.7" height="2.4" fill="#231f20"/>
<text x="1304.95" y="1129.00" font-size="36.3" fill="#231f20" stroke="#231f20" stroke-width="0.5">0</text>
<text transform="translate(416.40 1355.70) scale(1 1.04)" font-size="35.5" fill="#1a1a1a" text-anchor="start">Level of statistical significance</text>
<rect x="927.3" y="1331.9" width="22.6" height="22.2" fill="#231f20"/>
<rect x="1074.9" y="1333.1" width="20.4" height="20.4" fill="#fff" stroke="#231f20" stroke-width="2"/>
<g transform="translate(984.60 1353.39) scale(1 1.04)" fill="#1a1a1a"><text x="0.00" y="0" font-size="28.1">0.0</text><path transform="translate(39.06 0) scale(0.02810 -0.02810)" d="M 340 0 L 340 703 L 268 703 Q 250 640 205 610 Q 160 580 100 570 L 100 480 L 250 480 L 250 0 Z"/></g>
<g transform="translate(1131.20 1353.39) scale(1 1.04)" fill="#1a1a1a"><text x="0.00" y="0" font-size="28.1">0.05</text></g>
</svg></body></html>
